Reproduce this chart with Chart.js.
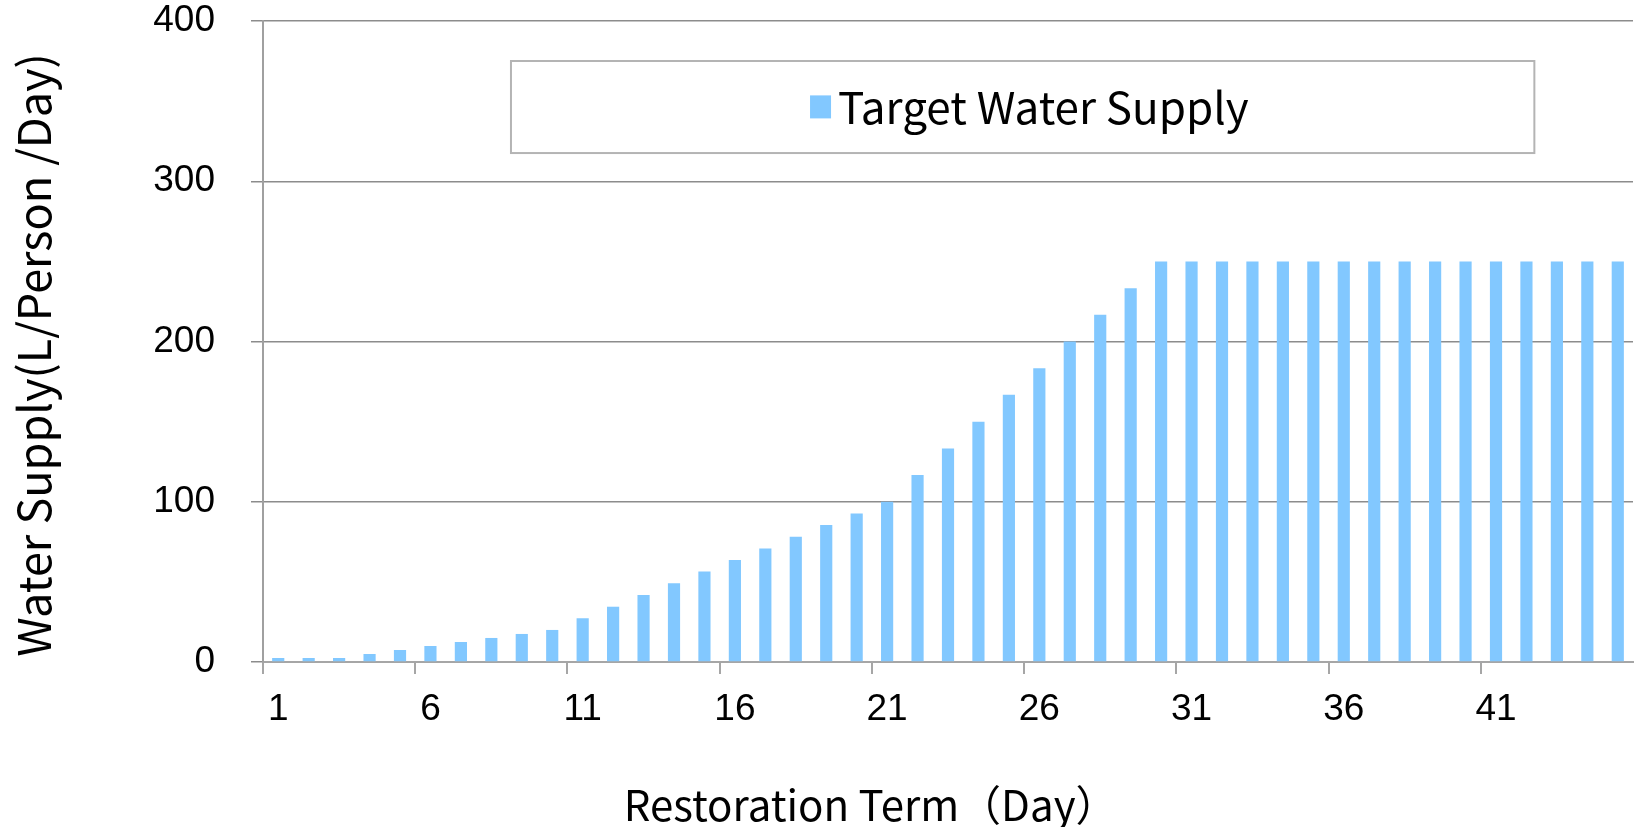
<!DOCTYPE html>
<html>
<head>
<meta charset="utf-8">
<script src="https://cdn.jsdelivr.net/npm/chart.js@4"></script>
<style>
  html, body { margin: 0; padding: 0; background: #fff; }
  #wrap { width: 1639px; height: 827px; }
</style>
</head>
<body>
<div id="wrap"><canvas id="chart"></canvas></div>
<script>
// Categories (restoration day)
const days = ['1','2','3','4','5','6','7','8','9','10',
  '11','12','13','14','15','16','17','18','19','20',
  '21','22','23','24','25','26','27','28','29','30',
  '31','32','33','34','35','36','37','38','39','40',
  '41','42','43','44','45'];

// Target water supply, L/person/day
const targetSupply = [2.5, 2.5, 2.5, 5, 7.5, 10, 12.5, 15, 17.5, 20,
  27.3, 34.5, 41.8, 49.1, 56.4, 63.6, 70.9, 78.2, 85.5, 92.7,
  100, 116.7, 133.3, 150, 166.7, 183.3, 200, 216.7, 233.3, 250,
  250, 250, 250, 250, 250, 250, 250, 250, 250, 250,
  250, 250, 250, 250, 250];

// Tick labels
const xTickLabels = ['1','6','11','16','21','26','31','36','41'];
const yTicks = [0, 100, 200, 300, 400];
const xTitle = 'Restoration Term（Day）';
const yTitle = 'Water Supply(L/Person /Day)';

const barColor = 'rgb(130, 200, 255)';
const titleFont = '"Noto Sans CJK JP", "Noto Sans", sans-serif';
const tickFont = '"Liberation Sans", Arial, sans-serif';

// legend in a framed box over the plot, plus both axis titles
// (they sit a little off the centre of the plot in the original)
const extras = {
  id: 'extras',
  afterDraw(chart) {
    const { ctx, chartArea: a } = chart;
    const w = a.right - a.left, h = a.bottom - a.top;
    const x0 = a.left + w * 0.181, x1 = a.left + w * 0.928;
    const y0 = a.top + h * 0.0624, y1 = a.top + h * 0.206;
    ctx.save();
    ctx.fillStyle = '#fff';
    ctx.fillRect(x0, y0, x1 - x0, y1 - y0);
    ctx.strokeStyle = '#b4b4b4';
    ctx.lineWidth = 2;
    ctx.strokeRect(x0, y0, x1 - x0, y1 - y0);

    const ds = chart.data.datasets[0];
    const sx = a.left + w * 0.3993;
    const cy = a.top + h * 0.134;
    ctx.fillStyle = ds.backgroundColor;
    ctx.fillRect(sx, cy - 11.5, 21, 23);
    ctx.fillStyle = '#000';
    ctx.font = '44px ' + titleFont;
    ctx.textBaseline = 'middle';
    ctx.textAlign = 'left';
    ctx.fillText(ds.label, sx + 28, cy);

    // x axis title
    ctx.font = '42px ' + titleFont;
    ctx.textAlign = 'center';
    ctx.fillText(xTitle, a.left + w * 0.4435, chart.height - 22);

    // y axis title
    ctx.translate(34, a.top + h * 0.521);
    ctx.rotate(-Math.PI / 2);
    ctx.font = '45px ' + titleFont;
    ctx.fillText(yTitle, 0, 0);
    ctx.restore();
  }
};

new Chart(document.getElementById('chart'), {
  type: 'bar',
  data: {
    labels: days,
    datasets: [{
      label: 'Target Water Supply',
      data: targetSupply,
      backgroundColor: barColor,
      borderWidth: 0,
      barPercentage: 0.4,
      categoryPercentage: 1.0
    }]
  },
  options: {
    responsive: true,
    maintainAspectRatio: false,
    animation: false,
    devicePixelRatio: 1,
    layout: { padding: { left: 0, right: 6, top: 0, bottom: 0 } },
    plugins: {
      legend: { display: false },
      tooltip: { enabled: false }
    },
    scales: {
      x: {
        offset: true,
        afterFit: s => { s.height = 165; },
        grid: {
          offset: true,
          drawOnChartArea: false,
          drawTicks: true,
          tickLength: 12,
          lineWidth: 2,
          color: c => (c.index % 5 === 0 ? '#a6a6a6' : 'rgba(0,0,0,0)')
        },
        border: { color: '#a6a6a6', width: 2 },
        ticks: {
          autoSkip: false,
          maxRotation: 0,
          padding: 14,
          color: '#000',
          font: { family: tickFont, size: 37 },
          callback: function (v) {
            const lab = this.getLabelForValue(v);
            return xTickLabels.includes(lab) ? lab : '';
          }
        }
      },
      y: {
        min: yTicks[0],
        max: yTicks[yTicks.length - 1],
        afterFit: s => { s.width = 263; s.paddingTop = 21; s.paddingBottom = 0; },
        afterBuildTicks: s => { s.ticks = yTicks.map(v => ({ value: v })); },
        grid: {
          color: '#8c8c8c',
          lineWidth: 1.5,
          tickLength: 12
        },
        border: { color: '#a0a0a0', width: 2 },
        ticks: {
          padding: 36,
          color: '#000',
          font: { family: tickFont, size: 37 }
        }
      }
    }
  },
  plugins: [extras]
});
</script>
</body>
</html>
